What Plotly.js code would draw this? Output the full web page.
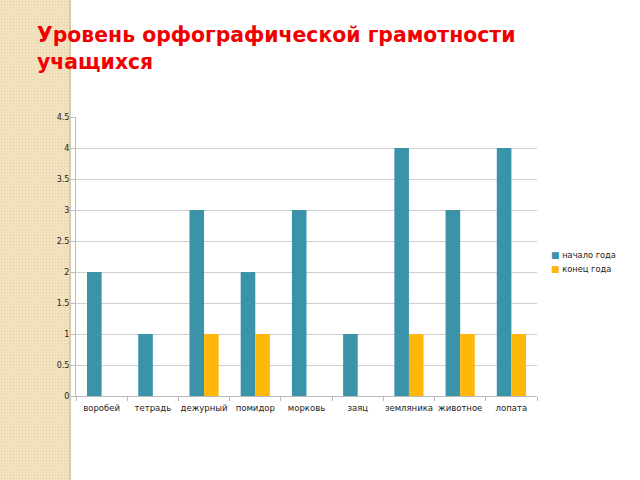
<!DOCTYPE html>
<html><head><meta charset="utf-8">
<script src="https://cdn.plot.ly/plotly-3.0.1.min.js"></script>
<style>
html,body{margin:0;padding:0;background:#fff;}
#stripe{position:absolute;left:0;top:0;width:69px;height:480px;background:#F2E2C0;
background-image:radial-gradient(#E6CFA0 0.8px, transparent 1px);background-size:3px 3px;border-right:2px solid #D9C9A6;}
#chart{position:absolute;left:0;top:0;width:640px;height:480px;}
</style></head>
<body>
<div id="stripe"></div>
<div id="chart"></div>
<script>
const categories = ["воробей","тетрадь","дежурный","помидор","морковь","заяц","земляника","животное","лопата"];
const startYear = [2,1,3,2,3,1,4,3,4];
const endYear = [0,0,1,1,0,0,1,1,1];
const seriesNames = ["начало года","конец года"];
const seriesColors = ['#3A93A8','#FFB80A'];
const titleText = "Уровень орфографической грамотности<br>учащихся";

const traces = [
  {type:'bar', name:seriesNames[0], x:categories, y:startYear, marker:{color:seriesColors[0]}, showlegend:false},
  {type:'bar', name:seriesNames[1], x:categories, y:endYear, marker:{color:seriesColors[1]}, showlegend:false}
];
const legendAnn = seriesNames.map((n,i)=>({
  xref:'paper', yref:'paper', x:1.025, y:0.505 - i*0.05, xanchor:'left', yanchor:'middle',
  showarrow:false, align:'left',
  text:'<span style="color:'+seriesColors[i]+';font-size:9px">■</span> '+n,
  font:{family:'DejaVu Sans', size:8.3, color:'#222'}
}));
const layout = {
  width:640, height:480,
  paper_bgcolor:'rgba(0,0,0,0)', plot_bgcolor:'#fff',
  margin:{l:76, r:103, t:117, b:84, autoexpand:false},
  font:{family:'DejaVu Sans', size:8, color:'#222'},
  barmode:'group', bargap:0.43, bargroupgap:0,
  title:{text:titleText, x:37/640, xanchor:'left', y:1-42/480, yanchor:'top',
    font:{family:'DejaVu Sans', size:20.4, color:'#F00000', weight:'bold'}},
  xaxis:{type:'category', showline:true, linecolor:'#BBBBBB', ticks:'outside', tickson:'boundaries',
    ticklen:4, tickcolor:'#BBBBBB', showgrid:false, tickangle:0, tickfont:{size:8.5}, ticklabelstandoff:4},
  yaxis:{range:[0,4.5], dtick:0.5, showgrid:true, gridcolor:'#CFCFCF', gridwidth:1.2,
    showline:true, linecolor:'#BBBBBB', ticks:'outside', ticklen:4, tickcolor:'#BBBBBB',
    zeroline:false, tickfont:{size:8}, tickformat:'.1~f'},
  annotations:legendAnn,
  showlegend:false
};
Plotly.newPlot('chart', traces, layout, {displayModeBar:false});
</script>
</body></html>
